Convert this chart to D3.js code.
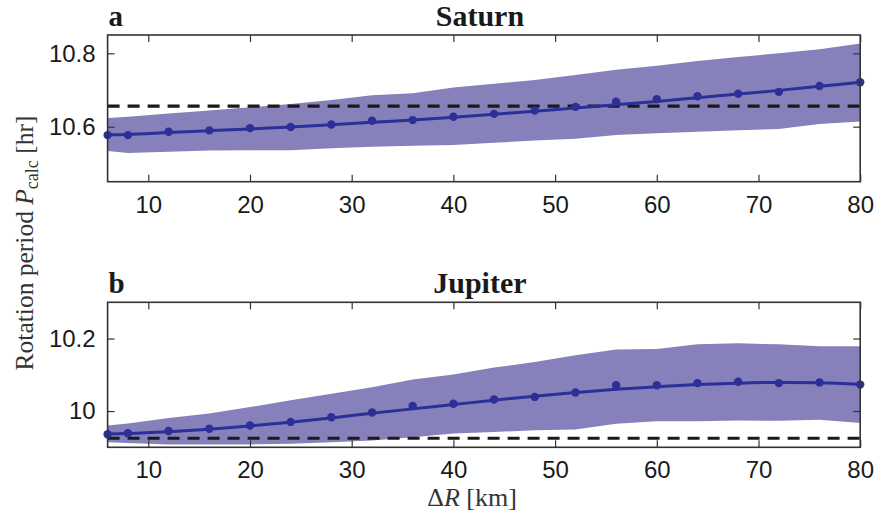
<!DOCTYPE html>
<html><head><meta charset="utf-8">
<script src="https://cdn.jsdelivr.net/npm/d3@7"></script>
<style>body{margin:0;background:#fff}svg{display:block}</style>
</head><body>
<svg id="c" width="878" height="519"></svg>
<script>
const dR = [6,8,12,16,20,24,28,32,36,40,44,48,52,56,60,64,68,72,76,80];
const xTicks = [10,20,30,40,50,60,70,80];

const saturnPts   = [10.577,10.577,10.586,10.590,10.596,10.599,10.606,10.616,10.618,10.627,10.635,10.644,10.654,10.668,10.675,10.683,10.690,10.695,10.711,10.721];
const saturnFit   = [10.578,10.579,10.584,10.589,10.594,10.599,10.605,10.612,10.618,10.626,10.634,10.642,10.651,10.660,10.669,10.679,10.689,10.699,10.710,10.721];
const saturnUpper = [10.624,10.627,10.636,10.644,10.653,10.662,10.673,10.686,10.691,10.707,10.717,10.727,10.741,10.755,10.766,10.779,10.790,10.800,10.811,10.827];
const saturnLower = [10.534,10.528,10.532,10.535,10.536,10.536,10.541,10.545,10.548,10.550,10.556,10.562,10.567,10.577,10.582,10.586,10.590,10.594,10.607,10.614];
const saturnRef = 10.656;
const saturnYTicks = [10.6,10.8];

const jupiterPts   = [9.936,9.939,9.945,9.951,9.960,9.970,9.983,9.996,10.014,10.020,10.032,10.039,10.051,10.071,10.071,10.077,10.081,10.077,10.079,10.073];
const jupiterFit   = [9.937,9.938,9.943,9.950,9.959,9.969,9.981,9.994,10.006,10.018,10.030,10.041,10.051,10.060,10.067,10.073,10.077,10.079,10.078,10.074];
const jupiterUpper = [9.960,9.966,9.981,9.993,10.011,10.030,10.048,10.066,10.087,10.101,10.120,10.135,10.154,10.170,10.171,10.184,10.187,10.184,10.179,10.179];
const jupiterLower = [9.914,9.912,9.908,9.908,9.908,9.910,9.914,9.919,9.928,9.938,9.942,9.947,9.949,9.965,9.972,9.972,9.974,9.973,9.976,9.967];
const jupiterRef = 9.925;
const jupiterYTicks = [10.0,10.2];

const svg = d3.select("#c");
const left = 107.6, right = 860.2;
const x = d3.scaleLinear().domain([6,80]).range([left,right]);

const bandColor = "#8781bb", lineColor = "#2b2f97", axisColor = "#333";
const tickFont = "'Liberation Sans', Arial, sans-serif";
const serif = "'Liberation Serif', 'Times New Roman', serif";

function panel(opt){
  const y = d3.scaleLinear().domain(opt.domain).range([opt.bottom, opt.top]);
  const g = svg.append("g");
  const clipId = "clip"+opt.letter;
  svg.append("clipPath").attr("id",clipId).append("rect")
    .attr("x",left).attr("y",opt.top).attr("width",right-left).attr("height",opt.bottom-opt.top);
  const inner = g.append("g").attr("clip-path",`url(#${clipId})`);
  const data = dR.map((d,i)=>({x:d,p:opt.pts[i],f:opt.fit[i],u:opt.upper[i],l:opt.lower[i]}));
  inner.append("path").datum(data)
    .attr("d", d3.area().x(d=>x(d.x)).y0(d=>y(d.l)).y1(d=>y(d.u)))
    .attr("fill", bandColor);
  inner.append("line").attr("x1",left).attr("x2",right)
    .attr("y1",y(opt.ref)).attr("y2",y(opt.ref))
    .attr("stroke","#1a1a1a").attr("stroke-width",3.2).attr("stroke-dasharray","12,8");
  inner.append("path").datum(data)
    .attr("d", d3.line().x(d=>x(d.x)).y(d=>y(d.f)).curve(d3.curveCatmullRom))
    .attr("fill","none").attr("stroke",lineColor).attr("stroke-width",3);
  g.append("g").selectAll("circle").data(data).join("circle")
    .attr("cx",d=>x(d.x)).attr("cy",d=>y(d.p)).attr("r",4.2).attr("fill",lineColor);

  // axes
  const axB = d3.axisBottom(x).tickValues(xTicks).tickSizeInner(-7).tickSizeOuter(0).tickPadding(14).tickFormat(d3.format("d"));
  const axT = d3.axisTop(x).tickValues(xTicks).tickSizeInner(-7).tickSizeOuter(0).tickFormat("");
  const axL = d3.axisLeft(y).tickValues(opt.yticks).tickSizeInner(-7).tickSizeOuter(0).tickPadding(12).tickFormat(d3.format(opt.yfmt));
  const axR = d3.axisRight(y).tickValues(opt.yticks).tickSizeInner(-7).tickSizeOuter(0).tickFormat("");
  const gb = g.append("g").attr("transform",`translate(0,${opt.bottom})`).call(axB);
  const gt = g.append("g").attr("transform",`translate(0,${opt.top})`).call(axT);
  const gl = g.append("g").attr("transform",`translate(${left},0)`).call(axL);
  const gr = g.append("g").attr("transform",`translate(${right},0)`).call(axR);
  [gb,gt,gl,gr].forEach(a=>{
    a.select(".domain").remove();
    a.selectAll("line").attr("stroke",axisColor).attr("stroke-width",1.2);
    a.selectAll("text").attr("fill","#1a1a1a").style("font-family",tickFont).style("font-size","24px");
  });
  g.append("rect").attr("x",left).attr("y",opt.top).attr("width",right-left).attr("height",opt.bottom-opt.top)
    .attr("fill","none").attr("stroke",axisColor).attr("stroke-width",1.6);

  g.append("text").attr("x",(left+right)/2 - 4).attr("y",opt.top-9).attr("text-anchor","middle")
    .style("font-family",serif).style("font-weight","bold").style("font-size","30px").attr("fill","#1a1a1a")
    .text(opt.title);
  g.append("text").attr("x",left+1).attr("y",opt.top-9)
    .style("font-family",serif).style("font-weight","bold").style("font-size","29px").attr("fill","#1a1a1a")
    .text(opt.letter);
}

panel({letter:"a",title:"Saturn",domain:[10.45,10.85],top:35,bottom:181.7,
  pts:saturnPts,fit:saturnFit,upper:saturnUpper,lower:saturnLower,ref:saturnRef,yticks:saturnYTicks,yfmt:".1f"});
panel({letter:"b",title:"Jupiter",domain:[9.9,10.3],top:302.3,bottom:447.3,
  pts:jupiterPts,fit:jupiterFit,upper:jupiterUpper,lower:jupiterLower,ref:jupiterRef,yticks:jupiterYTicks,yfmt:".1~f"});

// y label
const yl = svg.append("text").attr("transform","translate(33,243) rotate(-90)").attr("text-anchor","middle")
  .style("font-family",serif).style("font-size","25.5px").attr("fill","#333");
yl.append("tspan").text("Rotation period ");
yl.append("tspan").style("font-style","italic").text("P");
yl.append("tspan").attr("dy",5).style("font-size","18px").text("calc");
yl.append("tspan").attr("dy",-5).text(" [hr]");

// x label
const xl = svg.append("text").attr("x",472).attr("y",506).attr("text-anchor","middle")
  .style("font-family",serif).style("font-size","26px").attr("fill","#333");
xl.append("tspan").text("Δ");
xl.append("tspan").style("font-style","italic").text("R");
xl.append("tspan").text(" [km]");
</script>
</body></html>
